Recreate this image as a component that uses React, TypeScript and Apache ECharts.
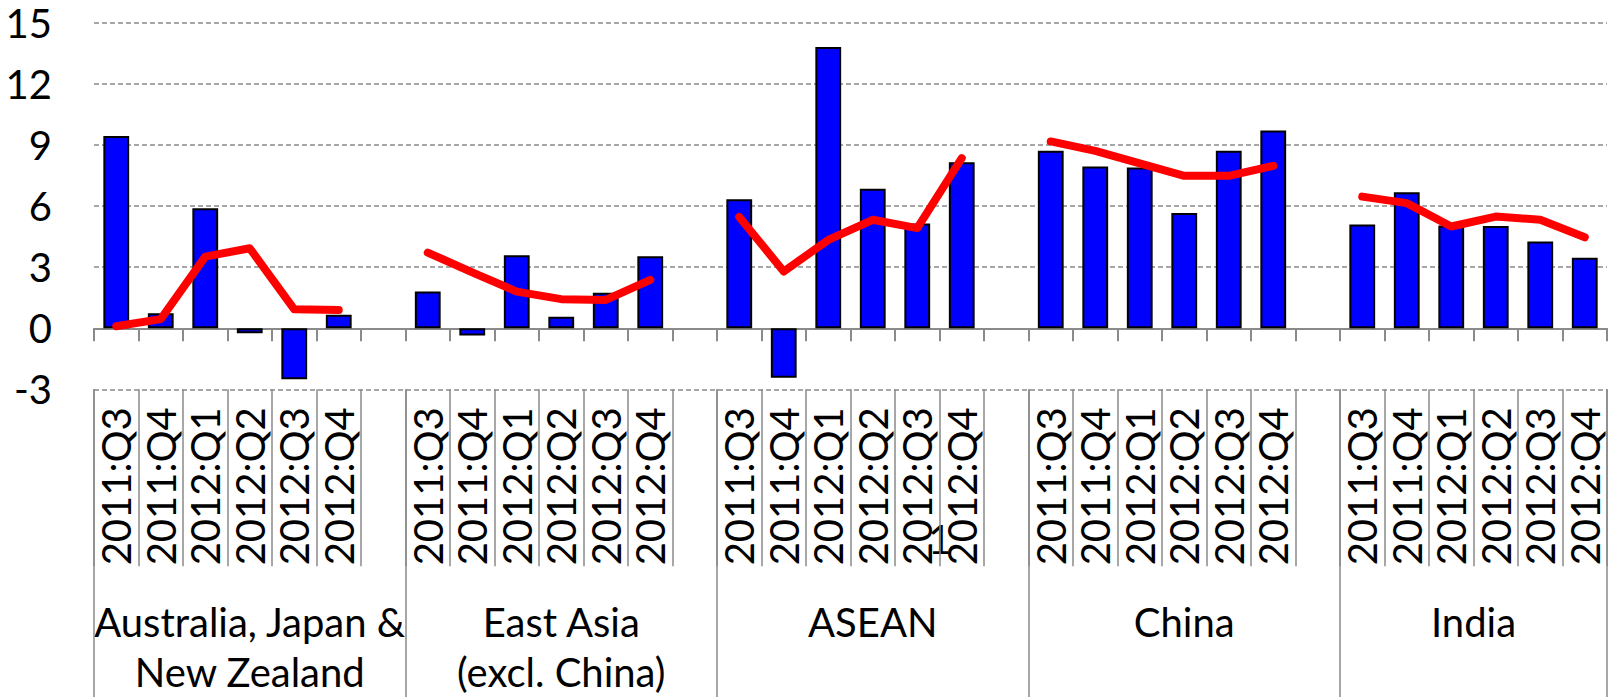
import React, { useEffect, useRef } from "react";
import * as echarts from "echarts";

const groups = ["Australia, Japan &\nNew Zealand", "East Asia\n(excl. China)", "ASEAN", "China", "India"];
const quarters = ["2011:Q3", "2011:Q4", "2012:Q1", "2012:Q2", "2012:Q3", "2012:Q4"];

const barAJNZ = [9.45, 0.74, 5.9, -0.25, -2.5, 0.66];
const barEastAsia = [1.8, -0.36, 3.59, 0.57, 1.75, 3.54];
const barASEAN = [6.34, -2.43, 13.82, 6.85, 5.15, 8.16];
const barChina = [8.72, 7.95, 7.9, 5.66, 8.72, 9.72];
const barIndia = [5.1, 6.68, 5.05, 5.03, 4.26, 3.47];

const lineAJNZ = [0.1, 0.45, 3.52, 3.93, 0.93, 0.9];
const lineEastAsia = [3.72, 2.75, 1.8, 1.43, 1.39, 2.38];
const lineASEAN = [5.47, 2.79, 4.34, 5.33, 4.92, 8.36];
const lineChina = [9.18, 8.72, 8.1, 7.49, 7.49, 7.98];
const lineIndia = [6.47, 6.15, 5.0, 5.49, 5.33, 4.47];

const yTicks = { min: -3, max: 15, interval: 3 };

const barGroups = [barAJNZ, barEastAsia, barASEAN, barChina, barIndia];
const lineGroups = [lineAJNZ, lineEastAsia, lineASEAN, lineChina, lineIndia];

// build category list with a blank gap category after each group except the last
const categories: string[] = [];
const barData: (number | null)[] = [];
const lineData: (number | null)[] = [];
const groupStart: number[] = [];
const groupLen: number[] = [];
groups.forEach((g, gi) => {
  groupStart.push(categories.length);
  quarters.forEach((q, qi) => {
    categories.push(gi + "|" + q);
    barData.push(barGroups[gi][qi]);
    lineData.push(lineGroups[gi][qi]);
  });
  if (gi < groups.length - 1) {
    categories.push(gi + "|");
    barData.push(null);
    lineData.push(null);
  }
  groupLen.push(categories.length - groupStart[gi]);
});

const FONT = "Lato";
const GRAY = "#8a8a8a";
const FS = 40;

export default function App() {
  const ref = useRef<HTMLDivElement>(null);
  useEffect(() => {
    if (!ref.current) return;
    const chart = echarts.init(ref.current, null, { renderer: "svg" });
    const labelFmt = (v: string) => v.split("|")[1] || "";
    chart.setOption({
      animation: false,
      textStyle: { fontFamily: FONT },
      grid: { left: 94, right: 3, top: 23, bottom: 307.7, containLabel: false },
      yAxis: {
        type: "value",
        min: yTicks.min,
        max: yTicks.max,
        interval: yTicks.interval,
        axisLine: { show: false },
        axisTick: { show: false },
        axisLabel: { color: "#000", fontSize: FS, fontFamily: FONT, margin: 42 },
        splitLine: { show: true, lineStyle: { color: GRAY, width: 1.5, type: [5, 3] } },
      },
      xAxis: [
        {
          type: "category",
          data: categories,
          position: "bottom",
          axisLine: { show: true, onZero: true, lineStyle: { color: GRAY, width: 2 } },
          axisTick: { show: true, interval: 0, length: 13, lineStyle: { color: GRAY, width: 2 } },
          axisLabel: { show: false },
          splitLine: { show: false },
        },
        {
          type: "category",
          data: categories,
          position: "bottom",
          axisLine: { show: false, onZero: false },
          axisTick: { show: true, interval: 0, length: 177, lineStyle: { color: GRAY, width: 1.5 } },
          axisLabel: {
            show: true,
            interval: 0,
            rotate: 90,
            margin: 18,
            color: "#000",
            fontSize: FS,
            fontFamily: FONT,
            formatter: labelFmt,
          },
          splitLine: { show: false },
        },
        {
          type: "category",
          data: categories,
          position: "bottom",
          axisLine: { show: false, onZero: false },
          axisTick: {
            show: true,
            interval: (i: number) => groupStart.indexOf(i) >= 0,
            length: 308,
            lineStyle: { color: GRAY, width: 1.5 },
          },
          axisLabel: { show: false },
          splitLine: { show: false },
        },
      ],
      series: [
        {
          type: "bar",
          xAxisIndex: 0,
          data: barData,
          barWidth: "58%",
          itemStyle: { color: "#0000FF", borderColor: "#000", borderWidth: 2 },
        },
        {
          type: "line",
          xAxisIndex: 0,
          data: lineData,
          showSymbol: false,
          symbol: "none",
          connectNulls: false,
          lineStyle: { color: "#FF0000", width: 8, cap: "round", join: "round" },
        },
      ],
    });

    const px = (i: number) => chart.convertToPixel({ xAxisIndex: 0 }, i) as number;
    const py = (v: number) => chart.convertToPixel({ yAxisIndex: 0 }, v) as number;
    const baseY = py(yTicks.min);
    const graphics: any[] = groups.map((g, gi) => {
      const s = groupStart[gi];
      const n = groupLen[gi];
      const left = px(s) - (px(s + 1) - px(s)) / 2;
      const w = (px(s + 1) - px(s)) * n;
      return {
        type: "text",
        x: left + w / 2,
        y: baseY + 208,
        style: {
          text: g,
          fill: "#000",
          fontSize: FS,
          fontFamily: FONT,
          lineHeight: 50,
          align: "center",
          verticalAlign: "top",
        },
      };
    });
    // stray "1" glyph visible in the original picture
    const a = groupStart[2] + 4;
    graphics.push({
      type: "text",
      x: (px(a) + px(a + 1)) / 2,
      y: baseY + 150,
      style: {
        text: "1",
        fill: "#000",
        fontSize: 40,
        fontFamily: FONT,
        align: "center",
        verticalAlign: "middle",
      },
    });
    chart.setOption({ graphic: graphics });

    return () => chart.dispose();
  }, []);
  return (
    <div
      ref={ref}
      style={{ position: "absolute", left: 0, top: 0, width: 1610, height: 697, background: "#fff" }}
    />
  );
}
